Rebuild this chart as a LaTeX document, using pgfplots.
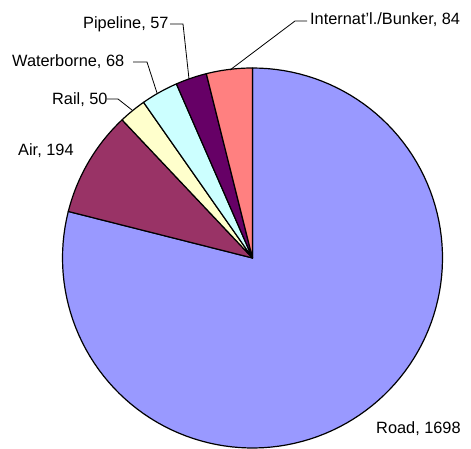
\documentclass[border=0pt]{standalone}
\usepackage{pgfplots}
\pgfplotsset{compat=1.18}
\usepackage{fontspec}
\setmainfont{Liberation Sans}
\definecolor{cRoad}{HTML}{9999FF}
\definecolor{cAir}{HTML}{993366}
\definecolor{cRail}{HTML}{FFFFCC}
\definecolor{cWater}{HTML}{CCFFFF}
\definecolor{cPipe}{HTML}{660066}
\definecolor{cIntl}{HTML}{FF8080}
% data values
\def\vRoad{1698}
\def\vAir{194}
\def\vRail{50}
\def\vWater{68}
\def\vPipe{57}
\def\vIntl{84}
\pgfmathsetmacro{\tot}{\vRoad+\vAir+\vRail+\vWater+\vPipe+\vIntl}
\pgfmathsetmacro{\aA}{90}
\pgfmathsetmacro{\aB}{\aA-360*(\vRoad/\tot)}
\pgfmathsetmacro{\aC}{\aB-360*(\vAir/\tot)}
\pgfmathsetmacro{\aD}{\aC-360*(\vRail/\tot)}
\pgfmathsetmacro{\aE}{\aD-360*(\vWater/\tot)}
\pgfmathsetmacro{\aF}{\aE-360*(\vPipe/\tot)}
\pgfmathsetmacro{\aG}{\aF-360*(\vIntl/\tot)}
\def\cx{252.5}
\def\cy{191}
\def\R{190}
\begin{document}
\begin{tikzpicture}
\begin{axis}[
  scale only axis, width=471bp, height=449bp,
  xmin=0, xmax=471, ymin=0, ymax=449,
  hide axis, clip=false,
  every axis plot/.append style={line width=1.2bp, draw=black, line join=round},
]
\path (axis cs:0,0) rectangle (axis cs:471,449);
\addplot[fill=cRoad, domain=\aB:\aA, samples=120, variable=\t]
  ({\cx+\R*cos(\t)},{\cy+\R*sin(\t)}) -- (axis cs:\cx,\cy) -- cycle;
\addplot[fill=cAir, domain=\aC:\aB, samples=30, variable=\t]
  ({\cx+\R*cos(\t)},{\cy+\R*sin(\t)}) -- (axis cs:\cx,\cy) -- cycle;
\addplot[fill=cRail, domain=\aD:\aC, samples=12, variable=\t]
  ({\cx+\R*cos(\t)},{\cy+\R*sin(\t)}) -- (axis cs:\cx,\cy) -- cycle;
\addplot[fill=cWater, domain=\aE:\aD, samples=12, variable=\t]
  ({\cx+\R*cos(\t)},{\cy+\R*sin(\t)}) -- (axis cs:\cx,\cy) -- cycle;
\addplot[fill=cPipe, domain=\aF:\aE, samples=12, variable=\t]
  ({\cx+\R*cos(\t)},{\cy+\R*sin(\t)}) -- (axis cs:\cx,\cy) -- cycle;
\addplot[fill=cIntl, domain=\aG:\aF, samples=16, variable=\t]
  ({\cx+\R*cos(\t)},{\cy+\R*sin(\t)}) -- (axis cs:\cx,\cy) -- cycle;
% leader lines
\draw[line width=0.8bp] (axis cs:170,425) -- (axis cs:183,425) -- (axis cs:189,370);
\draw[line width=0.8bp] (axis cs:133,387) -- (axis cs:147,387) -- (axis cs:157,356);
\draw[line width=0.8bp] (axis cs:107,350) -- (axis cs:118,350) -- (axis cs:132,339);
\draw[line width=0.8bp] (axis cs:307,428) -- (axis cs:295,428) -- (axis cs:230,379);
% labels
\begin{scope}[every node/.style={inner sep=0pt, font=\fontsize{16.4}{19}\selectfont}]
\node[anchor=base west] at (axis cs:83,420) {Pipeline, 57};
\node[anchor=base west] at (axis cs:12,382) {Waterborne, 68};
\node[anchor=base west] at (axis cs:52,344) {Rail, 50};
\node[anchor=base west] at (axis cs:18,293) {Air, 194};
\node[anchor=base west] at (axis cs:310,424) {Internat'l./Bunker, 84};
\node[anchor=base west] at (axis cs:376,16) {Road, 1698};
\end{scope}
\end{axis}
\end{tikzpicture}
\end{document}
